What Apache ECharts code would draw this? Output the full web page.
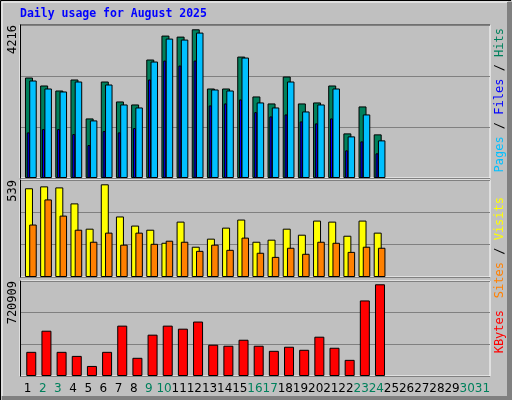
<!DOCTYPE html>
<html>
<head>
    <meta charset="utf-8" />
    <title>Daily usage for August 2025</title>
    <script src="https://cdn.jsdelivr.net/npm/echarts@6/dist/echarts.min.js"></script>
    <style>
        html, body { margin: 0; padding: 0; background: #c0c0c0; }
        #chart { width: 512px; height: 400px; }
    </style>
</head>
<body>
    <div id="chart"></div>
    <script>
        // 数据
        var days = [];
        for (var d = 1; d <= 31; d++) days.push(String(d));
        var weekendDays = ['2', '3', '9', '10', '16', '17', '23', '24', '30', '31'];
        var hits = [2849, 2623, 2481, 2793, 1689, 2736, 2170, 2085, 3359, 4038, 4009, 4216,
            2538, 2538, 3443, 2312, 2114, 2877, 2114, 2142, 2623, 1265, 2029, 1237];
        var files = [2764, 2538, 2453, 2736, 1633, 2651, 2085, 2000, 3302, 3953, 3925, 4123,
            2510, 2481, 3415, 2142, 2000, 2736, 1887, 2085, 2538, 1180, 1802, 1067];
        var pages = [1293, 1386, 1386, 1245, 934, 1330, 1293, 1415, 2793, 3330, 3189, 3330,
            2057, 2114, 2227, 1868, 1746, 1802, 1604, 1548, 1689, 784, 1038, 699];
        var visits = [516, 527, 521, 428, 281, 539, 352, 299, 275, 199, 322, 176,
            223, 287, 334, 205, 217, 281, 246, 328, 322, 240, 328, 258];
        var sites = [305, 451, 357, 275, 205, 258, 188, 258, 193, 211, 205, 152,
            188, 158, 229, 141, 117, 170, 135, 205, 199, 146, 176, 170];
        var kbytes = [190000, 356000, 190000, 158000, 79000, 190000, 396000, 143000, 325000, 396000, 372000, 428000,
            246000, 238000, 285000, 238000, 198000, 230000, 206000, 309000, 222000, 127000, 594000, 720909];

        var mono = '"DejaVu Sans Mono", monospace';
        var grids = [], xAxes = [], yAxes = [], series = [];

        // 添加一个面板（框）或一个数据层
        function addLayer(left, top, height, max, frame, data, color, width) {
            var i = grids.length;
            grids.push({
                left: left, top: top, width: 470, height: height,
                show: frame, backgroundColor: '#c0c0c0', borderColor: '#ffffff', borderWidth: 1
            });
            xAxes.push({
                type: 'category', gridIndex: i, data: days, boundaryGap: true,
                show: frame === 'labels',
                axisLine: { show: false }, axisTick: { show: false },
                axisLabel: {
                    interval: 0, margin: 7, fontSize: 12, fontFamily: '"DejaVu Sans", sans-serif',
                    color: function (v) { return weekendDays.indexOf(v) >= 0 ? '#00805c' : '#000'; }
                }
            });
            yAxes.push({
                type: 'value', gridIndex: i, min: 0, max: max, interval: max / 3,
                show: !!frame,
                axisLine: { show: true, lineStyle: { color: '#000' } },
                axisTick: { show: false }, axisLabel: { show: false },
                splitLine: { show: !!frame, lineStyle: { color: '#808080' } }
            });
            if (data) {
                series.push({
                    type: 'bar', xAxisIndex: i, yAxisIndex: i, data: data, barWidth: width,
                    animation: false,
                    itemStyle: { color: color, borderColor: '#000', borderWidth: 1 }
                });
            }
        }

        var topMax = 4338, midMax = 564, botMax = 746800;
        addLayer(20, 25, 153, topMax, true);
        addLayer(21.4, 25, 153, topMax, false, hits, '#00805c', 8);
        addLayer(25.4, 25, 153, topMax, false, files, '#00c0ff', 7.5);
        addLayer(20.7, 25, 153, topMax, false, pages, '#0000ff', 3);

        addLayer(20, 180, 97, midMax, true);
        addLayer(21.4, 180, 97, midMax, false, visits, '#ffff00', 8);
        addLayer(25.4, 180, 97, midMax, false, sites, '#ff8000', 7.5);

        addLayer(20, 281, 95, botMax, 'labels');
        addLayer(23.7, 281, 95, botMax, false, kbytes, '#ff0000', 10);

        function sideText(x, y, text, rich) {
            return {
                type: 'text', x: x, y: y, rotation: Math.PI / 2,
                style: { text: text, rich: rich, align: 'right', verticalAlign: 'middle', font: '12px ' + mono }
            };
        }
        var rs = function (c) { return { fill: c, font: '12px ' + mono }; };

        var chart = echarts.init(document.getElementById('chart'));
        chart.setOption({
            animation: false,
            backgroundColor: '#c0c0c0',
            grid: grids, xAxis: xAxes, yAxis: yAxes, series: series,
            graphic: [
                { type: 'line', shape: { x1: 0.5, y1: 0.5, x2: 511, y2: 0.5 }, style: { stroke: '#000', lineWidth: 1 } },
                { type: 'line', shape: { x1: 0.5, y1: 0.5, x2: 0.5, y2: 400 }, style: { stroke: '#000', lineWidth: 1 } },
                { type: 'line', shape: { x1: 2, y1: 2, x2: 508, y2: 2 }, style: { stroke: '#fff', lineWidth: 1 } },
                { type: 'line', shape: { x1: 2, y1: 2, x2: 2, y2: 396 }, style: { stroke: '#fff', lineWidth: 1 } },
                { type: 'rect', shape: { x: 507, y: 2, width: 5, height: 398 }, style: { fill: '#808080' } },
                { type: 'rect', shape: { x: 2, y: 396, width: 510, height: 4 }, style: { fill: '#808080' } },
                { type: 'line', shape: { x1: 20, y1: 25, x2: 490, y2: 25 }, style: { stroke: '#000', lineWidth: 1 } },
                {
                    type: 'text', x: 20, y: 14,
                    style: { text: 'Daily usage for August 2025', fill: '#0000ff', font: 'bold 11.5px ' + mono, verticalAlign: 'middle' }
                },
                { type: 'text', x: 13, y: 25, rotation: Math.PI / 2,
                  style: { text: '4216', fill: '#000', align: 'right', verticalAlign: 'middle', font: '12px ' + mono } },
                { type: 'text', x: 13, y: 180, rotation: Math.PI / 2,
                  style: { text: '539', fill: '#000', align: 'right', verticalAlign: 'middle', font: '12px ' + mono } },
                { type: 'text', x: 13, y: 281, rotation: Math.PI / 2,
                  style: { text: '720909', fill: '#000', align: 'right', verticalAlign: 'middle', font: '12px ' + mono } },
                sideText(500, 28, '{p|Pages}{k| / }{f|Files}{k| / }{h|Hits}',
                    { p: rs('#00c0ff'), f: rs('#0000ff'), h: rs('#00805c'), k: rs('#000') }),
                sideText(500, 197, '{s|Sites}{k| / }{v|Visits}',
                    { s: rs('#ff8000'), v: rs('#ffff00'), k: rs('#000') }),
                sideText(500, 310, '{b|KBytes}', { b: rs('#ff0000') })
            ]
        });
    </script>
</body>
</html>
